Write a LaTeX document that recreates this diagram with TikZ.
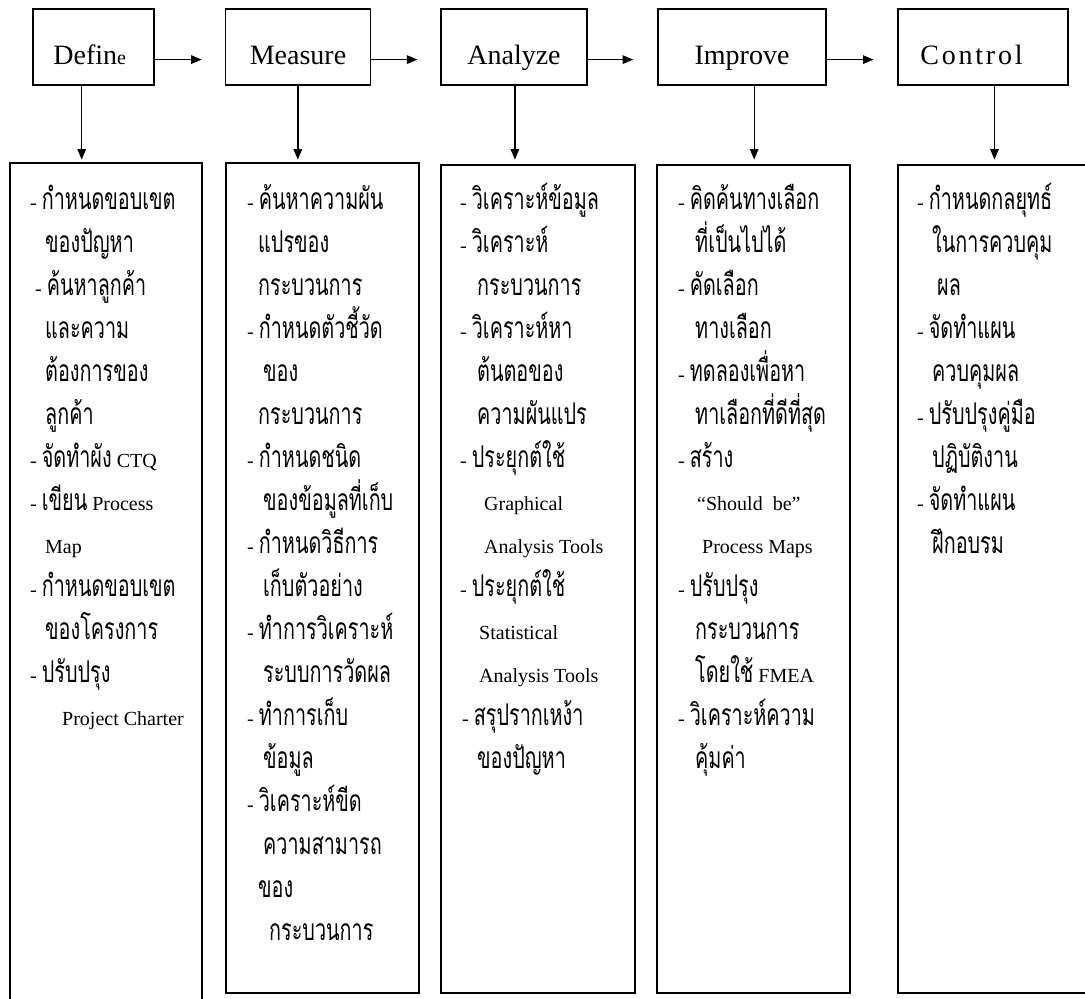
\documentclass[tikz,border=0pt]{standalone}
\usepackage{fontspec}
\setmainfont{Liberation Serif}
\newfontfamily\thaifont[Script=Thai,FakeStretch=0.66]{Loma}
\usetikzlibrary{arrows.meta}
\newcommand\tha[1]{{\thaifont\fontsize{30}{30}\selectfont #1}}
\newcommand\spaced[2]{{\addfontfeature{LetterSpace=#1}#2}}

\tikzset{
 stepbox/.style={draw,line width=1.5pt,minimum height=76pt,inner sep=0pt,
   text height=38pt,text depth=4pt,font=\fontsize{28}{32}\selectfont},
 listbox/.style={draw,line width=1.4pt,inner sep=0pt},
 item/.style={anchor=base west,inner sep=0pt,font=\fontsize{20}{24}\selectfont},
 arr/.style={line width=1.4pt,-{Triangle[length=10.5pt,width=8.5pt]}}
}

\begin{document}
\begin{tikzpicture}[x=1pt,y=-1pt]
\useasboundingbox (0,0) rectangle (1085,999);
% DMAIC steps
\node[stepbox,minimum width=121pt] (define) at (93.7,47) {Defin{\fontsize{20}{20}\selectfont e}\hspace*{8pt}};
\node[stepbox,minimum width=145pt] (measure) at (298,47) {Measure};
\node[stepbox,minimum width=146pt] (analyze) at (514,47) {Analyze};
\node[stepbox,minimum width=168pt] (improve) at (742,47) {Improve};
\node[stepbox,minimum width=170pt] (control) at (983,47) {\spaced{10}{Control}\hspace*{23pt}};

\coordinate (dm) at (201.7,59.6);
\coordinate (ma) at (417.4,59.6);
\coordinate (ai) at (633.2,59.6);
\coordinate (ic) at (873.5,59.6);
\draw[arr] (define.east |- dm) -- (dm);
\draw[arr] (measure.east |- ma) -- (ma);
\draw[arr] (analyze.east |- ai) -- (ai);
\draw[arr] (improve.east |- ic) -- (ic);

% lists below
\node[listbox,minimum width=192pt,minimum height=847pt] (deflist) at (106,586.5) {};
\node[listbox,minimum width=193pt,minimum height=830pt] (measlist) at (322.5,578) {};
\node[listbox,minimum width=194pt,minimum height=828pt] (analist) at (538,579) {};
\node[listbox,minimum width=193pt,minimum height=828pt] (implist) at (753.5,579) {};
\node[listbox,minimum width=202pt,minimum height=828pt] (conlist) at (999,579) {};

\coordinate (dd) at (81.7,159.6);
\coordinate (md) at (297.8,159.6);
\coordinate (ad) at (514.9,159.6);
\coordinate (id) at (754.2,159.6);
\coordinate (cd) at (994.5,159.6);
\draw[arr] (define.south -| dd) -- (dd);
\draw[arr] (measure.south -| md) -- (md);
\draw[arr] (analyze.south -| ad) -- (ad);
\draw[arr] (improve.south -| id) -- (id);
\draw[arr] (control.south -| cd) -- (cd);

\foreach \i/\x/\t in {1/30/{- \tha{กำหนดขอบเขต}},2/45/\tha{ของปัญหา},
  3/35/{- \tha{ค้นหาลูกค้า}},4/45/\tha{และความ},5/45/\tha{ต้องการของ},
  6/45/\tha{ลูกค้า},7/30/{- \tha{จัดทำผัง} CTQ},8/30/{- \tha{เขียน} Process},
  9/45/Map,10/30/{- \tha{กำหนดขอบเขต}},11/45/\tha{ของโครงการ},
  12/30/{- \tha{ปรับปรุง}},13/62/{Project Charter}}
 \node[item] (d\i) at (\x,{209+43*(\i-1)}) {\t};

\foreach \i/\x/\t in {1/247/{- \tha{ค้นหาความผัน}},2/258/\tha{แปรของ},
  3/258/\tha{กระบวนการ},4/247/{- \tha{กำหนดตัวชี้วัด}},5/263/\tha{ของ},
  6/258/\tha{กระบวนการ},7/247/{- \tha{กำหนดชนิด}},8/263/\tha{ของข้อมูลที่เก็บ},
  9/247/{- \tha{กำหนดวิธีการ}},10/263/\tha{เก็บตัวอย่าง},
  11/247/{- \tha{ทำการวิเคราะห์}},12/263/\tha{ระบบการวัดผล},
  13/247/{- \tha{ทำการเก็บ}},14/263/\tha{ข้อมูล},15/247/{- \tha{วิเคราะห์ขีด}},
  16/263/\tha{ความสามารถ},17/258/\tha{ของ},18/269/\tha{กระบวนการ}}
 \node[item] (m\i) at (\x,{209+43*(\i-1)}) {\t};

\foreach \i/\x/\t in {1/460/{- \tha{วิเคราะห์ข้อมูล}},2/460/{- \tha{วิเคราะห์}},
  3/477/\tha{กระบวนการ},4/460/{- \tha{วิเคราะห์หา}},5/477/\tha{ต้นตอของ},
  6/477/\tha{ความผันแปร},7/460/{- \tha{ประยุกต์ใช้}},8/484/Graphical,
  9/484/{Analysis Tools},10/460/{- \tha{ประยุกต์ใช้}},11/479/Statistical,
  12/479/{Analysis Tools},13/462/{- \tha{สรุปรากเหง้า}},14/477/\tha{ของปัญหา}}
 \node[item] (a\i) at (\x,{209+43*(\i-1)}) {\t};

\foreach \i/\x/\t in {1/678/{- \tha{คิดค้นทางเลือก}},2/695/\tha{ที่เป็นไปได้},
  3/678/{- \tha{คัดเลือก}},4/695/\tha{ทางเลือก},5/678/{- \tha{ทดลองเพื่อหา}},
  6/695/\tha{ทาเลือกที่ดีที่สุด},7/678/{- \tha{สร้าง}},8/697/{“Should~~be”},
  9/702/{Process Maps},10/678/{- \tha{ปรับปรุง}},11/695/\tha{กระบวนการ},
  12/695/{\tha{โดยใช้} FMEA},13/678/{- \tha{วิเคราะห์ความ}},14/695/\tha{คุ้มค่า}}
 \node[item] (i\i) at (\x,{209+43*(\i-1)}) {\t};

\foreach \i/\x/\t in {1/917/{- \tha{กำหนดกลยุทธ์}},2/932/\tha{ในการควบคุม},
  3/937/\tha{ผล},4/917/{- \tha{จัดทำแผน}},5/932/\tha{ควบคุมผล},
  6/917/{- \tha{ปรับปรุงคู่มือ}},7/932/\tha{ปฏิบัติงาน},8/917/{- \tha{จัดทำแผน}},
  9/932/\tha{ฝึกอบรม}}
 \node[item] (c\i) at (\x,{209+43*(\i-1)}) {\t};
\end{tikzpicture}
\end{document}
